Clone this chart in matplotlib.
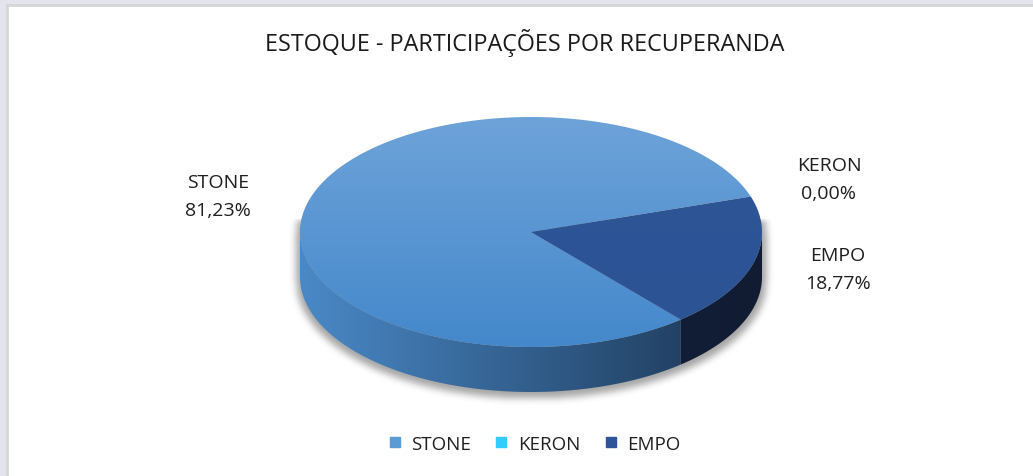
import numpy as np
import matplotlib
matplotlib.use("Agg")
import matplotlib.pyplot as plt
from matplotlib.patches import Polygon, Rectangle
from matplotlib.lines import Line2D

# data
labels = ["STONE", "KERON", "EMPO"]
shares = [81.23, 0.00, 18.77]
label_text = ["81,23%", "0,00%", "18,77%"]
top_colors = ["#5b9bd5", "#33ccff", "#2e5597"]
title = "ESTOQUE - PARTICIPAÇÕES POR RECUPERANDA"

plt.rcParams['font.family'] = ['Open Sans', 'DejaVu Sans']

W, H = 1033, 477
fig = plt.figure(figsize=(W / 100, H / 100), dpi=100)
fig.patch.set_facecolor("#e4e4ee")
ax = fig.add_axes([0, 0, 1, 1])
ax.set_xlim(0, W)
ax.set_ylim(H, 0)
ax.axis("off")

# chart area
ax.add_patch(Rectangle((7, 6), W, H, facecolor="white", edgecolor="#d6d6d6", lw=2, zorder=0))

# pie geometry (pixels)
cx, cy, rx, ry, depth = 531, 233, 231, 115, 45
start = -49.6  # degrees, slices run clockwise


def arc(t1, t2, dy=0, n=200):
    t = np.radians(np.linspace(t1, t2, n))
    return np.column_stack([cx + rx * np.cos(t), cy - ry * np.sin(t) + dy])


def gradient(patch, x0, x1, y0, y1, c0, c1, horizontal):
    c0 = np.array(matplotlib.colors.to_rgb(c0))
    c1 = np.array(matplotlib.colors.to_rgb(c1))
    f = np.linspace(0, 1, 256)
    cols = c0[None, :] * (1 - f[:, None]) + c1[None, :] * f[:, None]
    if horizontal:
        img = cols[None, :, :]
    else:
        img = cols[:, None, :]
    im = ax.imshow(img, extent=(x0, x1, y1, y0), origin="upper", aspect="auto",
                   interpolation="bilinear", zorder=patch.get_zorder())
    im.set_clip_path(patch)


# shadow below the pie
gx, gy = np.meshgrid(np.arange(280, 790), np.arange(220, 420))
mask = np.zeros(gx.shape)
for s in np.linspace(0, depth + 4, 50):
    mask = np.maximum(mask, (((gx - cx) / (rx + 4)) ** 2 + ((gy - cy - s) / (ry + 2)) ** 2 <= 1).astype(float))
k = np.ones(7) / 7
for _ in range(3):
    mask = np.apply_along_axis(lambda r: np.convolve(r, k, mode="same"), 1, mask)
    mask = np.apply_along_axis(lambda r: np.convolve(r, k, mode="same"), 0, mask)
shadow = np.zeros(gx.shape + (4,))
shadow[..., :3] = 0.3
shadow[..., 3] = mask * 0.5
ax.imshow(shadow, extent=(280, 790, 420, 220), origin="upper", aspect="auto", zorder=1)

# slice angles from data
total = sum(shares)
bounds = [start]
for v in shares:
    bounds.append(bounds[-1] - v / total * 360)

side_cols = [("#4a89c7", "#1a3350"), ("#1a7fa3", "#0f4c66"), ("#152746", "#111c33")]
top_grad = [("#6ea3d9", "#4488cb"), ("#33ccff", "#33ccff"), ("#2e5597", "#2c5394")]

# side walls (only the front half is visible)
for i, v in enumerate(shares):
    if v <= 0:
        continue
    a_hi, a_lo = bounds[i], bounds[i + 1]
    for off in (-720, -360, 0, 360):
        lo = max(a_lo, 180 + off)
        hi = min(a_hi, 360 + off)
        if hi > lo:
            top = arc(hi, lo)
            bot = arc(lo, hi, dy=depth)
            p = Polygon(np.vstack([top, bot]), closed=True, facecolor="none", edgecolor="none", zorder=2)
            ax.add_patch(p)
            gradient(p, cx - rx, cx + rx, cy, cy + ry + depth, side_cols[i][0], side_cols[i][1], True)

# top faces
for i, v in enumerate(shares):
    if v <= 0:
        continue
    pts = np.vstack([[cx, cy], arc(bounds[i], bounds[i + 1])])
    p = Polygon(pts, closed=True, facecolor="none", edgecolor="none", zorder=3)
    ax.add_patch(p)
    gradient(p, cx - rx, cx + rx, cy - ry, cy + ry, top_grad[i][0], top_grad[i][1], False)

ax.set_xlim(0, W)
ax.set_ylim(H, 0)

# title
ax.text(525, 43, title, ha="center", va="center", fontsize=16.8, color="#1a1a1a")

# data labels
txt = "#1f1f1f"
lab_pos = [(218, 197), (829, 180), (838, 270)]
for (x, y), name, pct in zip(lab_pos, labels, label_text):
    ax.text(x, y, f"{name}\n{pct}", ha="center", va="center", fontsize=14,
            color=txt, linespacing=1.65)

# legend
handles = [Line2D([], [], marker="s", ls="none", markersize=7.5, markerfacecolor=c,
                  markeredgecolor=c) for c in top_colors]
fig.legend(handles, labels, loc="center", bbox_to_anchor=(532 / W, 1 - 445 / H), ncol=3,
           frameon=False, fontsize=13.5, handletextpad=0.3, columnspacing=1.0,
           handlelength=1.2, labelcolor=txt)

fig.savefig("out.png", dpi=100, facecolor=fig.get_facecolor())
